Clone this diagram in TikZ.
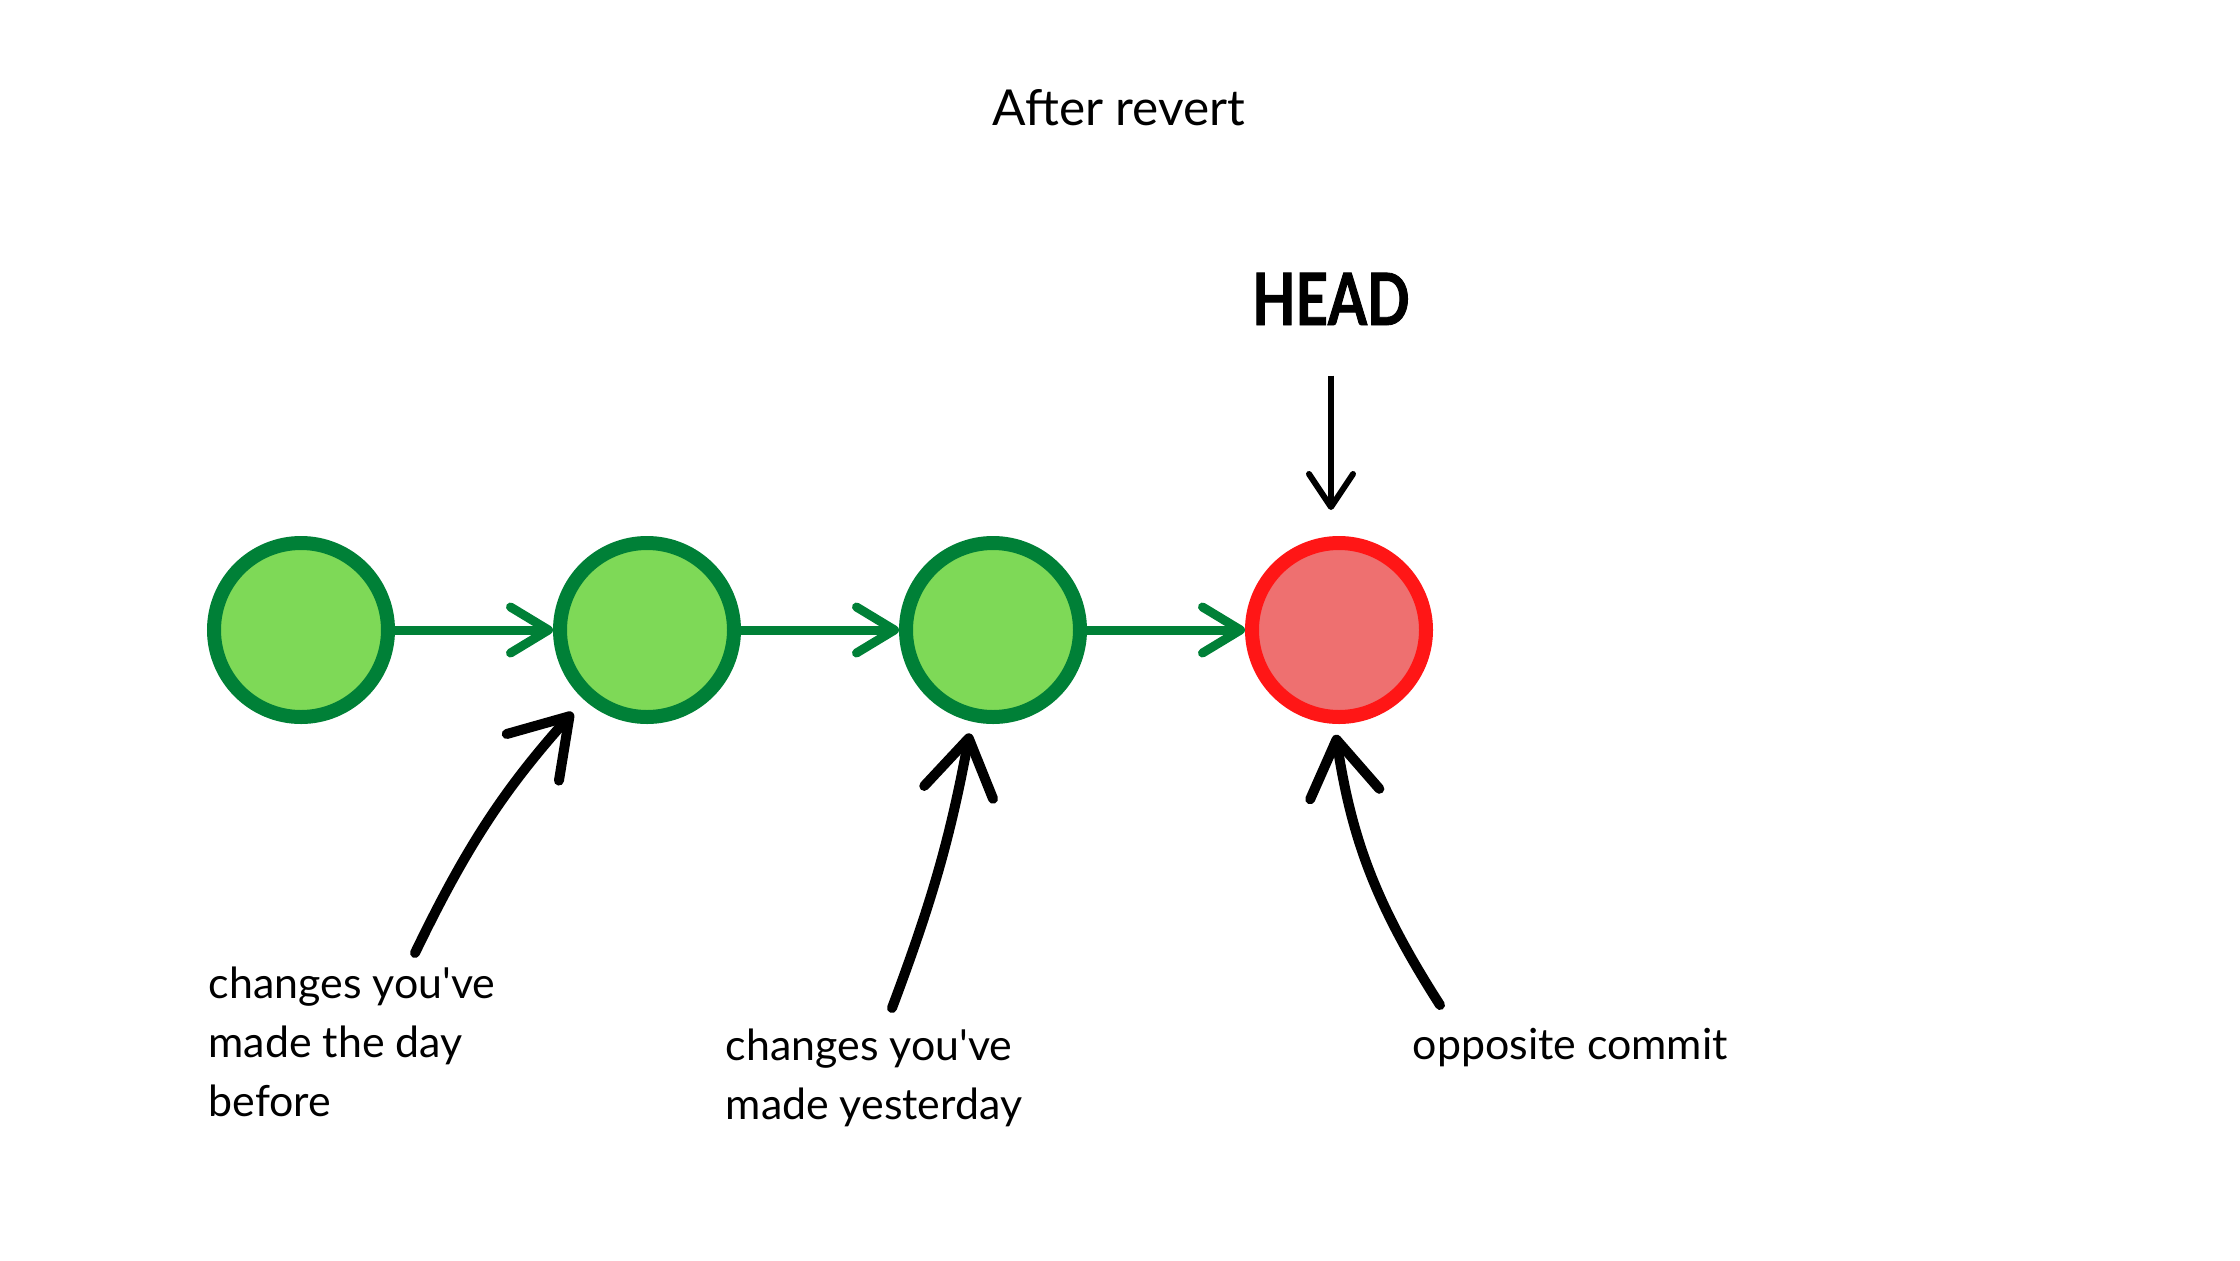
\documentclass[tikz,border=0pt]{standalone}
\usepackage{fontspec}
\setmainfont{Lato}
\newfontfamily\headfont{Lato}[FakeStretch=0.78, FakeBold=1.2]
\usetikzlibrary{arrows.meta}
\definecolor{commitgreen}{RGB}{0,128,55}
\definecolor{commitfill}{RGB}{126,217,87}
\definecolor{revertred}{RGB}{255,22,22}
\definecolor{revertfill}{RGB}{238,112,112}

\begin{document}
\begin{tikzpicture}

      \tikzset{commit/.style={draw=commitgreen, circle, line width=0.14cm, inner sep=0pt, minimum size=1.74cm, fill=commitfill},
               revert/.style={commit, draw=revertred, fill=revertfill},
               link/.style={draw=commitgreen, line width=0.09cm, -{Straight Barb[length=0.38cm, width=0.46cm, round]}},
               pointer/.style={draw=black, line width=0.1cm, line cap=round, -{Straight Barb[length=0.55cm, width=0.7cm, round]}},
               headptr/.style={draw=black, line width=0.06cm, -{Straight Barb[length=0.33cm, width=0.44cm, round]}},
               note/.style={align=left, inner sep=0pt, font=\fontsize{12.2}{16.8}\selectfont}}
      \useasboundingbox (0,0) rectangle (22.4,12.6);
%% Commits
      	\node[commit] (v1) at (3.01,6.30) {};
      	\node[commit] (v2) at (6.47,6.30) {};
      	\node[commit] (v3) at (9.93,6.30) {};
      	\node[revert] (v4) at (13.39,6.30) {};
%% Texts
      	\node[font=\fontsize{14.1}{17}\selectfont] (title) at (11.19,11.52) {After revert};
      	\node[font=\headfont\bfseries\fontsize{20.5}{24}\selectfont, inner sep=0pt, anchor=base] (head) at (13.31,9.35) {HEAD};
      	\node[note, anchor=north west] (n1) at (2.08,2.94) {changes you\textquotesingle ve\\made the day\\before};
      	\node[note, anchor=north west] (n2) at (7.25,2.32) {changes you\textquotesingle ve\\made yesterday};
      	\node[note, anchor=north west] (n3) at (14.12,2.32) {opposite commit};
      	\coordinate (t1) at (4.15,3.07);
      	\coordinate (t2) at (8.92,2.52);
      	\coordinate (t3) at (14.40,2.55);

%Edges
		\path (v1) edge[link] (v2);
		\path (v2) edge[link] (v3);
		\path (v3) edge[link] (v4);
		\path (head.south) edge[headptr, shorten <=0.5cm, shorten >=0.26cm] (head.south |- v4.north);
		\path (t1) edge[pointer, bend left=8, shorten >=0.17cm] (v2.228);
		\path (t2) edge[pointer, bend right=5, shorten >=0.12cm] (v3.257);
		\path (t3) edge[pointer, bend left=12, shorten >=0.11cm] (v4.267);
	\end{tikzpicture}
\end{document}
